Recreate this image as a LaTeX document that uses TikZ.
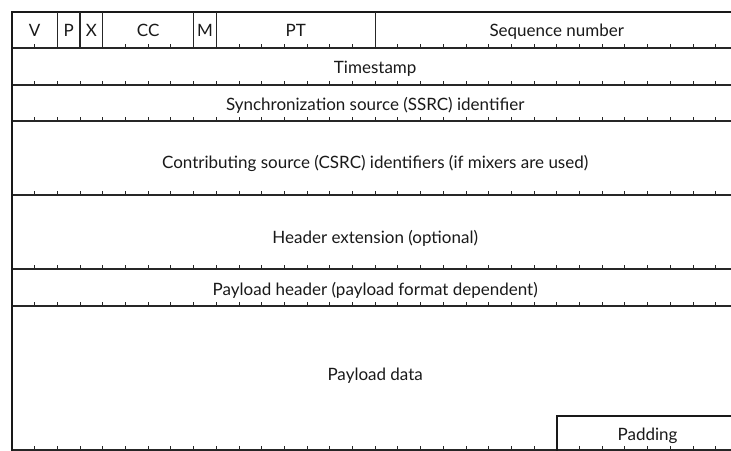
\documentclass[tikz,border=0pt]{standalone}
\usepackage{fontspec}
\setmainfont{Lato}
\begin{document}
\begin{tikzpicture}[x=1pt,y=-1pt,
  lbl/.style={font=\fontsize{17}{20}\selectfont, text=black!90, inner sep=0pt, anchor=base},
  hline/.style={line width=1.3pt, black!85},
  frame/.style={line width=2pt, black!90},
  tickmark/.style={line width=1pt, black!85}]
\useasboundingbox (0,0) rectangle (731,450);
\def\bw{22.7}
\def\xr{745}
% horizontal row boundaries
\foreach \y in {48,85,121,195,269,306,450}
  \draw[hline] (12,\y) -- (\xr,\y);
% top and left frame
\draw[frame] (11,12) -- (\xr,12);
\draw[frame] (12,11) -- (12,455);
% field separators in first row
\foreach \k in {2,3,4,8,9,16}
  \draw[hline] ({12+\k*\bw},12) -- ({12+\k*\bw},48);
% bit ticks
\foreach \y in {48,85,121,195,269,306,450}
  \foreach \k in {1,...,31}
    \draw[tickmark] ({12+\k*\bw},\y) -- ({12+\k*\bw},\y-4.5);
% padding box
\draw[frame] ({12+24*\bw},455) -- ({12+24*\bw},416) -- (\xr,416);
% labels
\node[lbl] (v)  at ({12+1*\bw},36) {V};
\node[lbl] (p)  at ({12+2.5*\bw},36) {P};
\node[lbl] (x)  at ({12+3.5*\bw},36) {X};
\node[lbl] (cc) at ({12+6*\bw},36) {CC};
\node[lbl] (m)  at ({12+8.5*\bw},36) {M};
\node[lbl] (pt) at ({12+12.5*\bw},36) {PT};
\node[lbl] (seq) at ({12+24*\bw},36) {Sequence number};
\node[lbl] (ts) at ({12+16*\bw},73) {Timestamp};
\node[lbl] (ssrc) at ({12+16*\bw},110) {Synchronization source (SSRC) identifier};
\node[lbl] (csrc) at ({12+16*\bw},168) {Contributing source (CSRC) identifiers (if mixers are used)};
\node[lbl] (hext) at ({12+16*\bw},243) {Header extension (optional)};
\node[lbl] (phdr) at ({12+16*\bw},295) {Payload header (payload format dependent)};
\node[lbl] (pdata) at ({12+16*\bw},380) {Payload data};
\node[lbl] (pad) at ({12+28*\bw},440) {Padding};
\end{tikzpicture}
\end{document}
